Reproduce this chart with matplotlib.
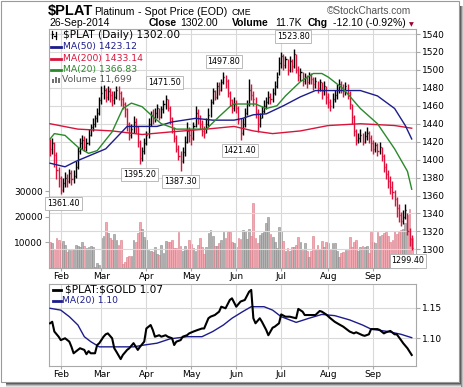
import numpy as np
import pandas as pd
import matplotlib
matplotlib.use("Agg")
import matplotlib.pyplot as plt
from matplotlib.lines import Line2D
from matplotlib.patches import Rectangle

# ---------------- data ----------------
HOLIDAYS = ["2014-02-17", "2014-04-18", "2014-05-26", "2014-07-04", "2014-09-01"]
DATES = pd.bdate_range("2014-01-27", "2014-09-26").drop(pd.to_datetime(HOLIDAYS))

CLOSE = [
    1412, 1418, 1405, 1388, 1380,                                          # Jan
    1366, 1374, 1380, 1376, 1385, 1378, 1382, 1392, 1410, 1418, 1422, 1414,
    1418, 1428, 1436, 1440, 1446, 1452, 1466,                              # Feb
    1474, 1478, 1470, 1476, 1472, 1466, 1470, 1478, 1474, 1468, 1462, 1456,
    1440, 1428, 1434, 1442, 1436, 1420, 1402, 1410, 1418,                  # Mar
    1428, 1440, 1450, 1446, 1452, 1458, 1448, 1456, 1462, 1468, 1458, 1446,
    1434, 1424, 1412, 1404, 1398, 1408, 1420, 1432, 1428,                  # Apr
    1424, 1438, 1452, 1446, 1440, 1432, 1430, 1440, 1450, 1464, 1476, 1470,
    1482, 1478, 1486, 1492, 1488, 1474, 1466, 1458,                        # May
    1462, 1458, 1444, 1430, 1440, 1452, 1462, 1478, 1472, 1468, 1452, 1440,
    1446, 1454, 1460, 1464, 1470, 1468, 1474, 1482, 1492,                  # Jun
    1508, 1516, 1506, 1512, 1500, 1510, 1504, 1518, 1500, 1494, 1498, 1488,
    1492, 1486, 1494, 1490, 1484, 1488, 1480, 1486, 1476, 1482,            # Jul
    1470, 1464, 1460, 1468, 1472, 1478, 1484, 1480, 1476, 1482, 1474, 1462,
    1448, 1432, 1422, 1424, 1428, 1420, 1426, 1430, 1424,                  # Aug
    1418, 1412, 1416, 1410, 1414, 1404, 1392, 1384, 1376, 1370, 1364, 1356,
    1346, 1338, 1332, 1336, 1344, 1320, 1312, 1302,                        # Sep
]
HIGH = [
    1423, 1424, 1420, 1408, 1392,
    1382, 1380, 1386, 1384, 1390, 1388, 1388, 1398, 1414, 1424, 1427, 1426,
    1424, 1434, 1440, 1446, 1450, 1458, 1470,
    1482, 1483, 1480, 1482, 1480, 1476, 1476, 1482, 1482, 1476, 1470, 1464,
    1458, 1442, 1440, 1449, 1446, 1438, 1422, 1414, 1424,
    1432, 1446, 1454, 1456, 1458, 1462, 1458, 1460, 1466, 1471.5, 1468, 1460,
    1448, 1436, 1428, 1416, 1410, 1414, 1426, 1442, 1436,
    1434, 1442, 1460, 1456, 1450, 1444, 1438, 1446, 1458, 1468, 1480, 1478,
    1486, 1486, 1490, 1497.8, 1494, 1490, 1476, 1468,
    1470, 1466, 1460, 1446, 1446, 1458, 1466, 1490, 1484, 1476, 1470, 1456,
    1452, 1460, 1466, 1470, 1476, 1474, 1480, 1488, 1498,
    1514, 1520, 1518, 1516, 1512, 1516, 1512, 1523.8, 1518, 1504, 1502, 1498,
    1496, 1494, 1498, 1496, 1492, 1492, 1488, 1490, 1486, 1488,
    1482, 1474, 1468, 1474, 1478, 1484, 1490, 1488, 1484, 1486, 1484, 1476,
    1462, 1450, 1434, 1430, 1434, 1430, 1432, 1436, 1432,
    1428, 1422, 1420, 1418, 1420, 1414, 1406, 1396, 1388, 1382, 1376, 1366,
    1358, 1350, 1342, 1344, 1351, 1340, 1324, 1316,
]
LOW = [
    1404, 1406, 1392, 1378, 1370,
    1361.4, 1364, 1370, 1370, 1374, 1372, 1374, 1380, 1390, 1406, 1412, 1410,
    1410, 1416, 1426, 1432, 1436, 1442, 1450,
    1462, 1468, 1464, 1466, 1464, 1460, 1462, 1468, 1466, 1460, 1456, 1448,
    1432, 1422, 1424, 1430, 1430, 1414, 1395.2, 1398, 1406,
    1416, 1424, 1438, 1440, 1442, 1446, 1444, 1446, 1452, 1456, 1454, 1440,
    1430, 1420, 1408, 1400, 1387.3, 1396, 1404, 1418, 1420,
    1416, 1422, 1436, 1440, 1434, 1426, 1424, 1430, 1436, 1448, 1462, 1466,
    1468, 1472, 1476, 1484, 1480, 1470, 1460, 1452,
    1454, 1452, 1440, 1421.4, 1428, 1436, 1450, 1460, 1466, 1460, 1446, 1431,
    1436, 1446, 1452, 1456, 1462, 1462, 1464, 1472, 1480,
    1494, 1502, 1500, 1502, 1494, 1498, 1498, 1502, 1496, 1488, 1488, 1482,
    1484, 1480, 1484, 1484, 1478, 1480, 1474, 1476, 1468, 1472,
    1462, 1458, 1454, 1458, 1464, 1468, 1474, 1474, 1470, 1472, 1468, 1456,
    1440, 1426, 1416, 1418, 1420, 1416, 1418, 1422, 1418,
    1410, 1406, 1408, 1404, 1406, 1398, 1386, 1378, 1368, 1362, 1356, 1348,
    1336, 1330, 1326, 1328, 1334, 1316, 1304, 1299.4,
]
VOLUME = [
    10300, 9700, 7300, 11600, 10800, 9800, 10600, 9000, 6300, 7000, 7000, 7600,
    9000, 8800, 8200, 10300, 8600, 7800, 8200, 8500, 8200, 400, 2000, 1000,
    11600, 12400, 18200, 13700, 11600, 11000, 13300, 11000, 9000, 11000, 1700,
    2200, 4200, 4600, 4600, 11000, 10000, 13700, 18200, 15200, 12000, 11000,
    7000, 6700, 6300, 8200, 5600, 5100, 9000, 5900, 10600, 10300, 10300, 10900,
    7700, 7700, 14000, 8600, 6700, 8600, 7000, 10900, 9500, 8000, 6600, 9000,
    11700, 8200, 5400, 8200, 13700, 15000, 12400, 8500, 8600, 9800, 11000,
    14100, 11600, 14100, 14000,
    10300, 9900, 8300, 11600, 11200, 14900, 14600, 11200, 15200, 12400, 25400,
    11600, 9700, 13000, 13900, 14300, 17800, 19900, 13300, 12000, 10300, 8000,
    16000, 14600, 10700, 6800, 8000, 6800, 8100, 8300, 9000, 12000, 10000,
    7100, 9700, 6800, 4200, 6800, 12400, 7100, 9100, 7400, 10600, 8300, 10300,
    9900, 7400, 9700, 9700, 6500, 4300, 5800, 6200, 7100, 7100, 12000, 8300,
    10300, 11000, 6500, 8300, 8600, 8300, 8600, 5700, 14000, 10000, 9700,
    14000, 12600, 13000, 13700, 14000, 12400, 10300, 11000, 14400, 13500,
    14000, 15000, 15200, 17600, 20600, 23000, 11700,
]

# moving averages, read at sample days (trading-day index)
MA50_DAY = [0, 7, 12, 18, 26, 32, 36, 43, 50, 57, 68, 76, 86, 90, 95, 101,
            109, 117, 124, 130, 145, 153, 161, 166, 169]
MA50 = [1396, 1392, 1398, 1404, 1412, 1427, 1437, 1437, 1437, 1442, 1446,
        1444, 1444, 1446, 1450, 1451, 1460, 1470, 1477, 1477, 1477, 1471,
        1457, 1438, 1423]
MA200_DAY = [0, 13, 29, 43, 57, 73, 86, 95, 104, 117, 130, 145, 161, 169]
MA200 = [1440, 1434, 1432, 1428, 1431, 1434, 1437, 1432, 1429, 1432, 1438,
         1440, 1438, 1435]
MA20_DAY = [0, 2, 7, 13, 18, 22, 29, 34, 38, 43, 48, 52, 59, 65, 73, 79, 84,
            86, 91, 96, 101, 106, 110, 117, 123, 127, 130, 137, 145, 153, 161,
            167, 169]
MA20 = [1423, 1429, 1427, 1414, 1407, 1410, 1431, 1457, 1463, 1459, 1448,
        1440, 1434, 1434, 1434, 1448, 1459, 1462, 1462, 1462, 1457, 1460,
        1471, 1487, 1496, 1496, 1492, 1479, 1457, 1440, 1412, 1387, 1367]

RATIO_DAY = [0, 1, 2, 4, 5, 7, 9, 10, 11, 13, 14, 16, 17, 18, 19, 21, 22, 23,
             25, 26, 27, 29, 30, 31, 33, 34, 36, 37, 39, 41, 42, 44, 45, 47,
             48, 49, 51, 52, 54, 55, 57, 58, 59, 61, 62, 64, 65, 67, 69, 71,
             72, 74, 75, 77, 79, 80, 82, 84, 85, 87, 89, 91, 93, 94, 95, 96,
             98, 99, 101, 102, 104, 105, 107, 108, 110, 112, 115, 116, 118,
             119, 122, 124, 126, 127, 129, 131, 133, 135, 137, 140, 142, 143,
             146, 147, 149, 150, 153, 154, 156, 157, 159, 161, 162, 164, 165,
             167, 169]
RATIO = [1.1245, 1.127, 1.111, 1.1026, 1.097, 1.100, 1.0945, 1.086, 1.0755,
         1.081, 1.0837, 1.081, 1.074, 1.079, 1.0755, 1.0755, 1.089, 1.092,
         1.1026, 1.1065, 1.108, 1.100, 1.0837, 1.078, 1.066, 1.0727, 1.081,
         1.0837, 1.092, 1.081, 1.086, 1.0945, 1.116, 1.1217, 1.1136, 1.1026,
         1.105, 1.1026, 1.105, 1.1026, 1.100, 1.089, 1.0945, 1.097, 1.1026,
         1.105, 1.108, 1.111, 1.1136, 1.116, 1.116, 1.1327, 1.1353, 1.138,
         1.1435, 1.1516, 1.149, 1.1626, 1.1653, 1.1516, 1.160, 1.1626, 1.176,
         1.179, 1.1327, 1.1245, 1.1327, 1.127, 1.1136, 1.105, 1.1173, 1.119,
         1.1245, 1.139, 1.1353, 1.1353, 1.1327, 1.148, 1.1435, 1.138, 1.138,
         1.138, 1.1446, 1.1435, 1.139, 1.1327, 1.127, 1.1229, 1.119, 1.111,
         1.108, 1.1098, 1.105, 1.104, 1.1065, 1.115, 1.115, 1.1136, 1.108,
         1.1098, 1.112, 1.1065, 1.1065, 1.097, 1.092, 1.0837, 1.0727]
RATIO_MA_DAY = [0, 5, 9, 13, 16, 19, 23, 31, 39, 44, 50, 56, 64, 71, 76, 81,
                85, 90, 94, 100, 104, 108, 115, 121, 127, 133, 140, 146, 150,
                158, 164, 169]
RATIO_MA = [1.149, 1.146, 1.1353, 1.1217, 1.1026, 1.0945, 1.086, 1.086, 1.086,
            1.089, 1.092, 1.099, 1.1026, 1.1026, 1.111, 1.1217, 1.1327, 1.1435,
            1.1516, 1.1516, 1.146, 1.1353, 1.126, 1.1327, 1.139, 1.137, 1.130,
            1.1217, 1.115, 1.111, 1.1065, 1.101]

PRICE_TICKS = list(range(1300, 1541, 20))
VOL_TICKS = [10000, 20000, 30000]
RATIO_TICKS = [1.10, 1.15]

# ---------------- style ----------------
W, H = 464, 387
RED = "#e0103c"
NAVY = "#1c1c8c"
CRIMSON = "#d8143c"
GREEN = "#2a8a2a"
GRID = "#d9d9d9"
SPINE = "#a8a8a8"
HDR = ["Liberation Sans", "DejaVu Sans"]
CH = ["DejaVu Sans"]
plt.rcParams["text.parse_math"] = False


def fx(px):
    return px / W


def fy(py):
    return 1 - py / H


fig = plt.figure(figsize=(W / 100, H / 100), dpi=100)
fig.patch.set_facecolor("white")

# frame with drop shadow
for k, c in enumerate(["#5a5a5a", "#8c8c8c", "#bdbdbd", "#e2e2e2"]):
    fig.add_artist(Rectangle((fx(460 + k), fy(387)), 1 / W, (387 - 6) / H,
                             transform=fig.transFigure, color=c, lw=0))
    fig.add_artist(Rectangle((fx(6), fy(383 + k + 1)), (455) / W, 1 / H,
                             transform=fig.transFigure, color=c, lw=0))
fig.add_artist(Rectangle((fx(0.5), fy(382)), 459 / W, 381.5 / H,
                         transform=fig.transFigure, fill=False,
                         ec="#9a9a9a", lw=0.8))

n = len(CLOSE)
x = np.arange(n)
C = np.array(CLOSE, float)
up = np.r_[False, np.diff(C) > 0]
bar_col = np.where(up, "black", RED)

month_idx = [i for i in range(1, n) if DATES[i].month != DATES[i - 1].month]
month_lab = [DATES[i].strftime("%b") for i in month_idx]

rect_top = [fx(49), fy(268), fx(416 - 49), (268 - 29) / H]
XL = (-0.5, 171.0)

# volume underneath
axv = fig.add_axes(rect_top)
axv.bar(x, VOLUME, width=0.82,
        color=np.where(up, "#b4b4b4", "#f2a9b2"),
        edgecolor=np.where(up, "#8a8a8a", "#d97a88"), lw=0.4)
axv.set_xlim(*XL)
axv.set_ylim(0, 93700)
axv.set_yticks(VOL_TICKS)
axv.set_yticklabels([str(v) for v in VOL_TICKS])
axv.tick_params(axis="y", left=True, right=False, length=3, color=SPINE,
                labelsize=6.5, pad=1.5)
axv.set_xticks([])
for s in axv.spines.values():
    s.set_visible(False)
for t in axv.get_yticklabels():
    t.set_family(CH)

# price panel
ax = fig.add_axes(rect_top)
ax.patch.set_alpha(0)
ax.set_xlim(*XL)
ax.set_ylim(1279.2, 1545.6)
ax.set_axisbelow(True)
ax.grid(True, color=GRID, lw=0.8)
ax.vlines(x, LOW, HIGH, colors=bar_col, lw=1.0, zorder=3)
ax.hlines(C, x, x + 0.5, colors=bar_col, lw=1.0, zorder=3)
ax.plot(MA200_DAY, MA200, color=CRIMSON, lw=1.0, zorder=4)
ax.plot(MA50_DAY, MA50, color=NAVY, lw=1.0, zorder=4)
ax.plot(MA20_DAY, MA20, color=GREEN, lw=1.0, zorder=4)
ax.set_yticks(PRICE_TICKS)
ax.yaxis.tick_right()
ax.set_xticks(month_idx)
ax.set_xticklabels(month_lab)
ax.tick_params(axis="y", length=3, color=SPINE, labelsize=6.5, pad=1.5)
ax.tick_params(axis="x", length=2, color=SPINE, labelsize=6.5, pad=1)
for s in ax.spines.values():
    s.set_color(SPINE)
for t in ax.get_yticklabels() + ax.get_xticklabels():
    t.set_family(CH)

# high / low callouts
callouts = [(5, LOW[5], 2, -7), (42, LOW[42], -0.5, -7.5),
            (54, HIGH[54], -0.8, 9), (61, LOW[61], 0, -7.5),
            (81, HIGH[81], 0.4, 7.5), (89, LOW[89], -0.5, -7),
            (114, HIGH[114], -0.7, 8.5), (169, LOW[169], -2.7, -8)]
for i, v, dx, dy in callouts:
    ax.annotate(f"{v:.2f}", xy=(i, v), xytext=(dx, dy),
                textcoords="offset points", ha="center", va="center",
                fontsize=5.8, family=CH, zorder=6, annotation_clip=False,
                bbox=dict(boxstyle="square,pad=0.25", fc="white",
                          ec="#b0b0b0", lw=0.6))

# ratio panel
axr = fig.add_axes([fx(49), fy(366), fx(367), 82 / H])
axr.set_xlim(*XL)
axr.set_ylim(1.0547, 1.1887)
axr.set_axisbelow(True)
axr.grid(True, color=GRID, lw=0.8)
axr.plot(RATIO_MA_DAY, RATIO_MA, color=NAVY, lw=1.0, zorder=3)
axr.plot(RATIO_DAY, RATIO, color="black", lw=1.5, zorder=4)
axr.set_yticks(RATIO_TICKS)
axr.set_yticklabels([f"{v:.2f}" for v in RATIO_TICKS])
axr.yaxis.tick_right()
axr.set_xticks(month_idx)
axr.set_xticklabels(month_lab)
axr.tick_params(axis="y", length=3, color=SPINE, labelsize=6.5, pad=1.5)
axr.tick_params(axis="x", length=2, color=SPINE, labelsize=6.5, pad=1)
for s in axr.spines.values():
    s.set_color(SPINE)
for t in axr.get_yticklabels() + axr.get_xticklabels():
    t.set_family(CH)

# ---------------- header ----------------
fig.text(fx(48), fy(15), "$PLAT", fontsize=10.5, fontweight="bold", family=HDR)
fig.text(fx(94), fy(15), "Platinum", fontsize=7.5, family=HDR)
fig.text(fx(138), fy(15), "- Spot Price (EOD)", fontsize=7.7, family=HDR)
fig.text(fx(232), fy(15), "CME", fontsize=6.3, family=HDR)
fig.text(fx(327), fy(14), "\u00a9StockCharts.com", fontsize=7.3,
         family=HDR, color="#555555")
fig.text(fx(49), fy(26.5), "26-Sep-2014", fontsize=7.5, family=HDR)
row2 = [(149, "Close", True), (180, "1302.00", False),
        (232, "Volume", True), (275, "11.7K", False),
        (308, "Chg", True), (333, "-12.10 (-0.92%)", False)]
for px, s, b in row2:
    fig.text(fx(px), fy(26.5), s, fontsize=7.5, family=HDR,
             fontweight="bold" if b else "normal")
fig.text(fx(409), fy(26), "\u25bc", fontsize=4.5, family=CH, color="#a0002a")

# ---------------- legends ----------------
def hline(x0, x1, y, color, lw):
    fig.add_artist(Line2D([fx(x0), fx(x1)], [fy(y), fy(y)], color=color,
                          lw=lw, transform=fig.transFigure))


def vline(xp, y0, y1, color, lw):
    fig.add_artist(Line2D([fx(xp), fx(xp)], [fy(y0), fy(y1)], color=color,
                          lw=lw, transform=fig.transFigure))


# price bar icon
vline(52, 31, 38, "black", 0.9)
hline(52, 53.5, 34, "black", 0.9)
vline(56, 32, 39, "black", 0.9)
hline(54.5, 56, 36, "black", 0.9)
fig.text(fx(63), fy(34.7), "$PLAT (Daily) 1302.00", fontsize=7.6,
         family=CH, va="center")
legend_rows = [(47.0, NAVY, "MA(50) 1423.12"), (58.5, CRIMSON, "MA(200) 1433.14"),
               (69.7, GREEN, "MA(20) 1366.83")]
for yy, col, s in legend_rows:
    hline(51, 61.5, yy, col, 2.0)
    fig.text(fx(63), fy(yy), s, fontsize=6.7, family=CH, color=col, va="center")
for k, hh in enumerate([4, 6, 5]):
    fig.add_artist(Rectangle((fx(51.5 + k * 3.2), fy(83)), 2.4 / W, hh / H,
                             transform=fig.transFigure, color="#707070", lw=0))
fig.text(fx(62), fy(79.7), "Volume 11,699", fontsize=6.7, family=CH,
         color="#555555", va="center")

hline(53, 61, 290, "black", 2.0)
fig.text(fx(65), fy(290), "$PLAT:$GOLD 1.07", fontsize=7.6, family=CH,
         va="center")
hline(53, 61, 301, NAVY, 2.0)
fig.text(fx(62), fy(301), "MA(20) 1.10", fontsize=6.6, family=CH, color=NAVY,
         va="center")

fig.savefig("out.png", dpi=100)
